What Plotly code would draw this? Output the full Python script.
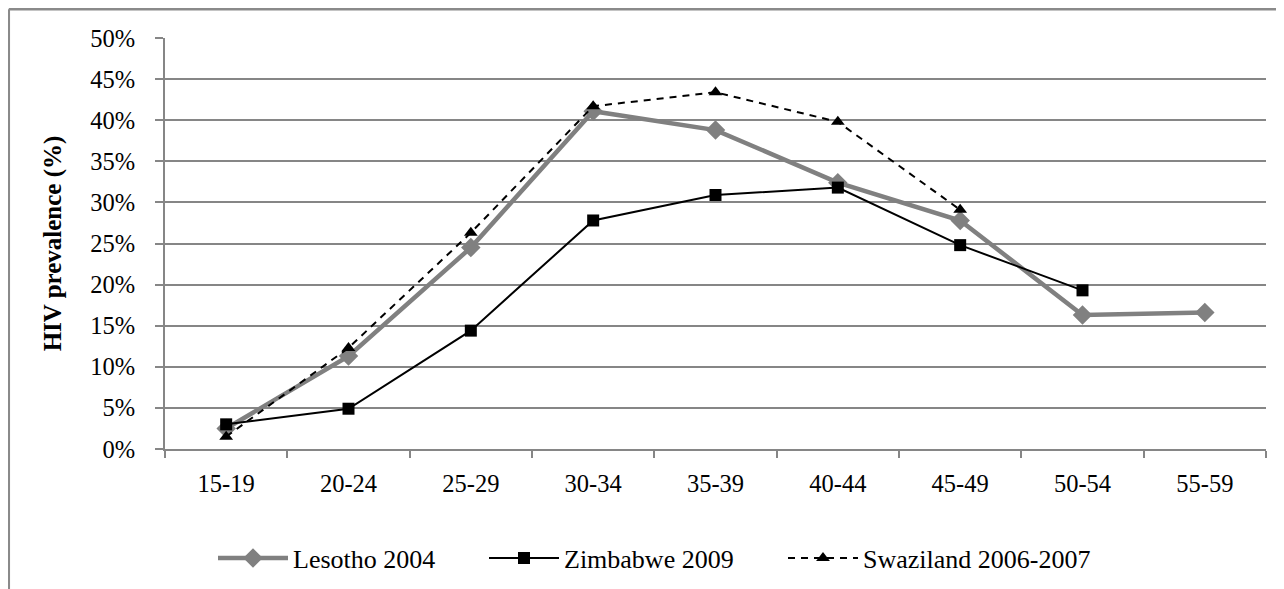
import plotly.graph_objects as go

categories = ["15-19", "20-24", "25-29", "30-34", "35-39", "40-44", "45-49", "50-54", "55-59"]
lesotho = [2.5, 11.3, 24.5, 41.1, 38.8, 32.4, 27.8, 16.3, 16.6]
zimbabwe = [3.0, 4.9, 14.4, 27.8, 30.9, 31.8, 24.8, 19.3, None]
swaziland = [1.5, 12.3, 26.3, 41.7, 43.4, 39.8, 29.1, None, None]
y_ticks = [0, 5, 10, 15, 20, 25, 30, 35, 40, 45, 50]
y_tick_labels = [f"{v}%" for v in y_ticks]

# page has an 8px body margin; figure coords = page coords - 8
OFF = 8
W, H = 1276, 581
L, R, T, B = 157, 18, 30, 140
PW, PH = W - L - R, H - T - B
GRAY = "#868686"
FONT = "Liberation Serif"

def px_x(p):
    return (p - OFF - L) / PW

def px_y(p):
    return (H - B - (p - OFF)) / PH

fig = go.Figure()
fig.add_trace(go.Scatter(
    x=categories, y=lesotho, name="Lesotho 2004", mode="lines+markers",
    line=dict(color="#808080", width=4.5),
    marker=dict(symbol="diamond", size=15, color="#808080"),
    legend="legend", showlegend=True))
fig.add_trace(go.Scatter(
    x=categories, y=zimbabwe, name="Zimbabwe 2009", mode="lines+markers",
    line=dict(color="#000000", width=2),
    marker=dict(symbol="square", size=12, color="#000000"),
    legend="legend2", showlegend=True))
fig.add_trace(go.Scatter(
    x=categories, y=swaziland, name="Swaziland 2006-2007", mode="lines+markers",
    line=dict(color="#000000", width=2, dash="7px,6px"),
    marker=dict(symbol="triangle-up", size=12, color="#000000"),
    legend="legend3", showlegend=True))

legend_common = dict(orientation="h", yanchor="middle", xanchor="left",
                     font=dict(family=FONT, size=26, color="#000000"),
                     bgcolor="rgba(0,0,0,0)", itemwidth=70, borderwidth=0,
                     visible=True)
ly = px_y(558)

frame_x = px_x(8.8)
frame_y = px_y(9.2)
fig.update_layout(
    width=W, height=H, showlegend=True,
    margin=dict(l=L, r=R, t=T, b=B, autoexpand=False),
    paper_bgcolor="white", plot_bgcolor="white",
    font=dict(family=FONT, color="#000000"),
    legend=dict(x=px_x(213), y=ly, **legend_common),
    legend2=dict(x=px_x(484), y=ly, **legend_common),
    legend3=dict(x=px_x(783), y=ly, **legend_common),
    xaxis=dict(
        type="category", range=[-0.5, len(categories) - 0.5],
        showgrid=False, showline=True, linecolor=GRAY, linewidth=2,
        ticks="outside", tickson="boundaries", ticklen=7, tickwidth=2, tickcolor=GRAY,
        tickfont=dict(family=FONT, size=24.5, color="#000000"),
        ticklabelstandoff=12, zeroline=False),
    yaxis=dict(
        range=[0, 50], tickvals=y_ticks, ticktext=y_tick_labels,
        showgrid=True, gridcolor=GRAY, gridwidth=2,
        showline=True, linecolor=GRAY, linewidth=2,
        ticks="outside", ticklen=8, tickwidth=2, tickcolor=GRAY,
        tickfont=dict(family=FONT, size=24.5, color="#000000"),
        ticklabelstandoff=15, zeroline=False,
        title=dict(text="<b>HIV prevalence (%)</b>",
                   font=dict(family=FONT, size=25, color="#000000"), standoff=21)),
    shapes=[
        dict(type="line", xref="paper", yref="paper", x0=frame_x, x1=frame_x,
             y0=px_y(H + 20), y1=frame_y, line=dict(color="#8a8a8a", width=2.5)),
        dict(type="line", xref="paper", yref="paper", x0=frame_x, x1=px_x(W + 20),
             y0=frame_y, y1=frame_y, line=dict(color="#8a8a8a", width=2.5)),
    ],
)

fig.write_html("out.html")
